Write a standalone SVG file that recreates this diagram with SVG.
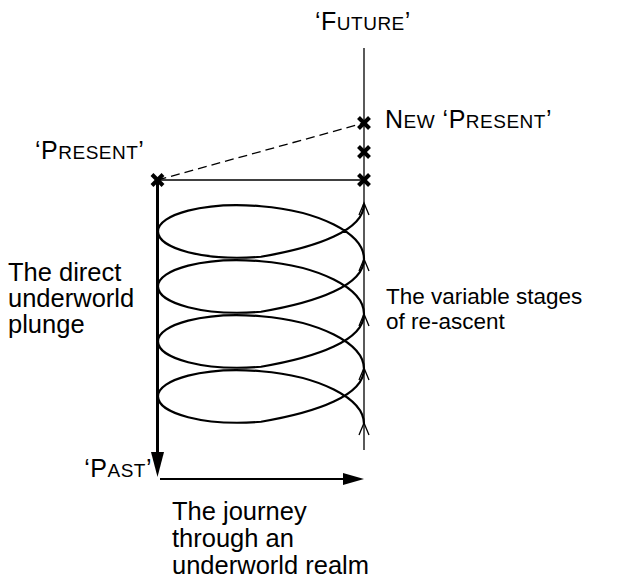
<svg xmlns="http://www.w3.org/2000/svg" width="621" height="580" viewBox="0 0 621 580">
<style>
text{font-family:"Liberation Sans",Arial,sans-serif;fill:#000;font-size:25.5px}
.cap{font-size:25px;letter-spacing:0.5px}
.sc{font-size:19px}
.small{font-size:22.5px}
.thin{stroke:#000;stroke-width:1.3;fill:none}
.x{stroke:#000;stroke-width:4;stroke-linecap:butt}
.chev{stroke:#000;stroke-width:1.3;fill:none}
</style>
<defs>
<g id="cross"><line class="x" x1="-5.5" y1="-5.5" x2="5.5" y2="5.5"/><line class="x" x1="-5.5" y1="5.5" x2="5.5" y2="-5.5"/></g>
<path id="chevron" class="chev" d="M-5,12 L0,0 L5,12"/>
</defs>
<g id="connectors">
<line class="thin" x1="364" y1="48" x2="364" y2="450"/>
<line class="thin" x1="157.5" y1="180" x2="364" y2="180"/>
<line class="thin" x1="157.5" y1="180" x2="364" y2="123" stroke-dasharray="9 5"/>
<line x1="157.5" y1="180" x2="157.5" y2="458" stroke="#000" stroke-width="3"/>
<polygon points="151,452 164,452 157.5,477" fill="#000"/>
<line x1="160" y1="479" x2="346" y2="479" stroke="#000" stroke-width="2"/>
<polygon points="343,473 343,485 364,479" fill="#000"/>
<path fill="none" stroke="#000" stroke-width="2.2" d="M364,204 C364,230.12 317.89,247.17 261,256.75 C204.11,261.33 158,248.46 158,231.5 C158,214.54 204.11,201.33 261,206.25 C317.89,210.83 364,232.88 364,259 C364,285.12 317.89,302.17 261,311.75 C204.11,316.33 158,303.46 158,286.5 C158,269.54 204.11,256.33 261,261.25 C317.89,265.83 364,287.88 364,314 C364,340.12 317.89,357.17 261,366.75 C204.11,371.33 158,358.46 158,341.5 C158,324.54 204.11,311.33 261,316.25 C317.89,320.83 364,342.88 364,369 C364,395.12 317.89,412.17 261,421.75 C204.11,426.33 158,413.46 158,396.5 C158,379.54 204.11,366.33 261,371.25 C317.89,375.83 364,397.88 364,424"/>
<use href="#chevron" x="364" y="203"/>
<use href="#chevron" x="364" y="259"/>
<use href="#chevron" x="364" y="314"/>
<use href="#chevron" x="364" y="368"/>
<use href="#chevron" x="364" y="423"/>
</g>
<g id="future"><text class="cap" x="315" y="30">‘F<tspan class="sc">UTURE</tspan>’</text></g>
<g id="new-present"><use href="#cross" x="364" y="123"/><text class="cap" x="385" y="128">N<tspan class="sc">EW</tspan> ‘P<tspan class="sc">RESENT</tspan>’</text></g>
<g id="mid-cross"><use href="#cross" x="364" y="152"/></g>
<g id="right-cross"><use href="#cross" x="364" y="180"/></g>
<g id="present"><use href="#cross" x="157.5" y="180"/><text class="cap" x="35" y="159">‘P<tspan class="sc">RESENT</tspan>’</text></g>
<g id="past"><text class="cap" x="152" y="477" text-anchor="end">‘P<tspan class="sc">AST</tspan>’</text></g>
<g id="plunge-label"><text x="8" y="281">The direct</text><text x="8" y="307">underworld</text><text x="8" y="333">plunge</text></g>
<g id="reascent-label"><text class="small" x="386" y="304">The variable stages</text><text class="small" x="386" y="329">of re-ascent</text></g>
<g id="journey-label"><text x="172" y="520">The journey</text><text x="172" y="547">through an</text><text x="172" y="574">underworld realm</text></g>
</svg>
